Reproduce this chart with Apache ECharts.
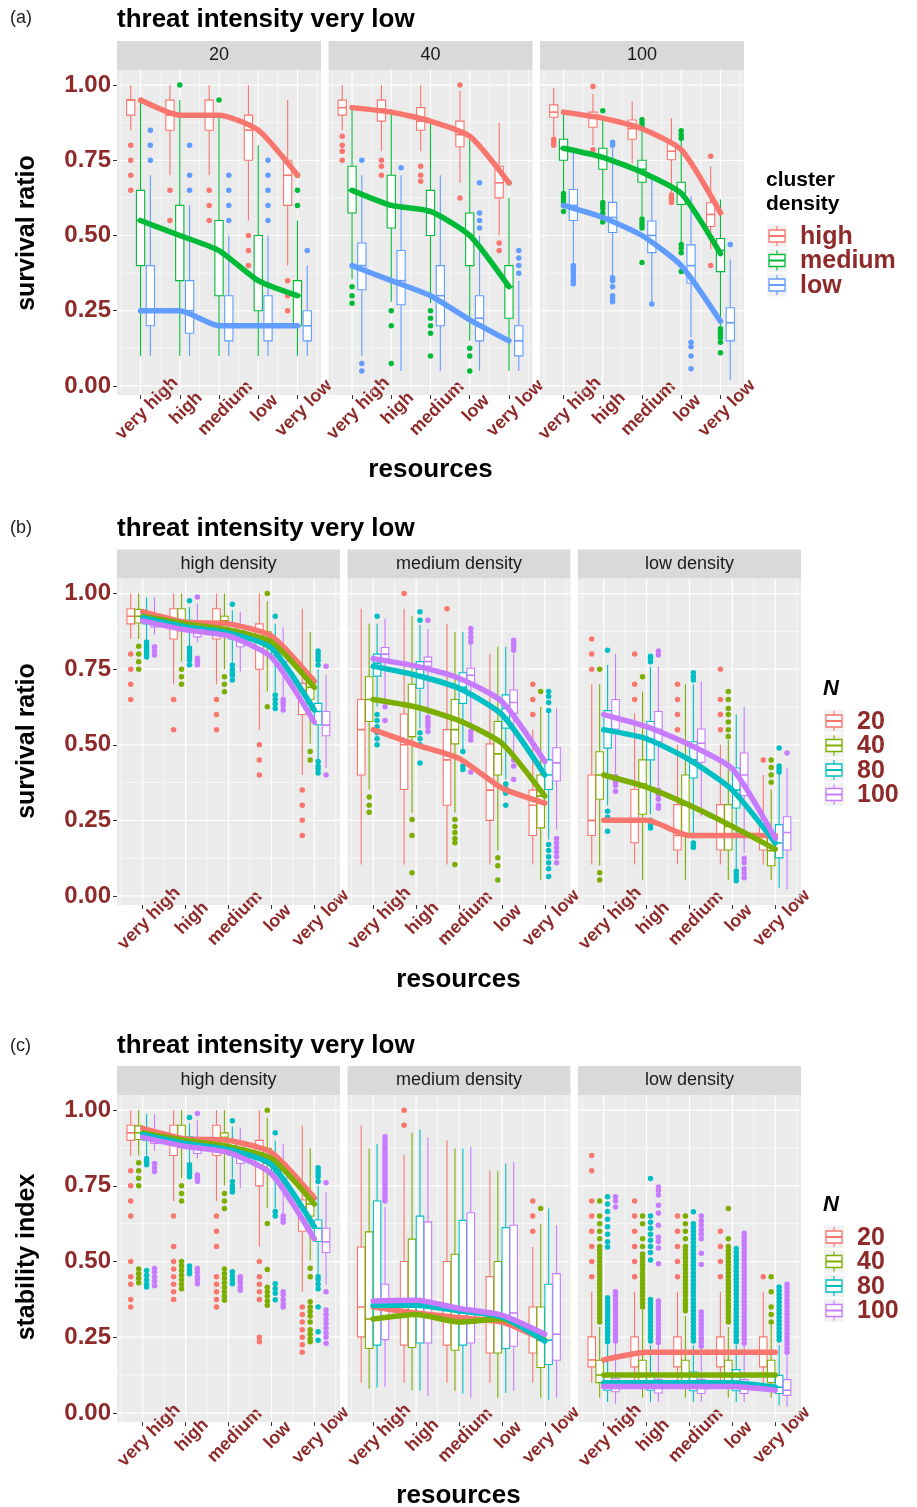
<!DOCTYPE html>
<html>
<head>
<meta charset="utf-8">
<script src="https://cdn.jsdelivr.net/npm/echarts@6/dist/echarts.min.js"></script>
<style>
html,body{margin:0;padding:0;background:#fff;}
#chart{width:917px;height:1507px;}
</style>
</head>
<body>
<div id="chart"></div>
<script>
// ---------------- DATA ----------------
const resources = ["very high", "high", "medium", "low", "very low"];
const clusterDensity = ["high", "medium", "low"];
const nValues = ["20", "40", "80", "100"];
const facetsA = ["20", "40", "100"];
const facetsBC = ["high density", "medium density", "low density"];
const yTicks = [0, 0.25, 0.5, 0.75, 1];
const yMinor = [0.125, 0.375, 0.625, 0.875];
const xTicks = [0, 1, 2, 3, 4];
const xMinor = [-0.5, 0.5, 1.5, 2.5, 3.5, 4.5];

// box = [lower whisker, Q1, median, Q3, upper whisker] per resource level
// ---- (a) facet N=20
const a20_high = [[0.85,0.90,0.95,0.95,1.00],[0.70,0.85,0.90,0.95,1.00],[0.70,0.85,0.90,0.95,1.00],[0.55,0.75,0.85,0.90,1.00],[0.40,0.60,0.70,0.75,0.95]];
const a20_high_out = [[0.80,0.75,0.70,0.65],[0.65,0.55],[0.65,0.60,0.55],[0.50,0.45,0.40],[0.35,0.30,0.25]];
const a20_high_line = [0.95,0.90,0.90,0.85,0.70];
const a20_medium = [[0.10,0.40,0.55,0.65,0.95],[0.10,0.35,0.50,0.60,0.95],[0.10,0.30,0.45,0.55,0.90],[0.10,0.25,0.35,0.50,0.80],[0.10,0.20,0.30,0.35,0.55]];
const a20_medium_out = [[],[1.00],[0.95],[],[0.70,0.65,0.60]];
const a20_medium_line = [0.55,0.50,0.45,0.35,0.30];
const a20_low = [[0.10,0.20,0.25,0.40,0.70],[0.10,0.175,0.25,0.35,0.60],[0.10,0.15,0.20,0.30,0.50],[0.10,0.15,0.20,0.30,0.50],[0.10,0.15,0.20,0.25,0.40]];
const a20_low_out = [[0.85,0.80,0.75],[0.80,0.70,0.65],[0.70,0.65,0.60,0.55],[0.75,0.70,0.65,0.60,0.55],[0.45]];
const a20_low_line = [0.25,0.25,0.20,0.20,0.20];
// ---- (a) facet N=40
const a40_high = [[0.85,0.90,0.925,0.95,1.00],[0.78,0.88,0.92,0.95,1.00],[0.78,0.85,0.88,0.925,1.00],[0.675,0.795,0.835,0.88,0.98],[0.50,0.625,0.675,0.73,0.875]];
const a40_high_out = [[0.83,0.80,0.78,0.75],[0.75,0.73,0.70],[0.73,0.70,0.68],[1.00,0.625],[0.475,0.45]];
const a40_high_line = [0.925,0.91,0.88,0.83,0.675];
const a40_medium = [[0.355,0.575,0.65,0.73,0.93],[0.28,0.525,0.60,0.70,0.92],[0.275,0.50,0.575,0.65,0.87],[0.15,0.40,0.50,0.575,0.82],[0.05,0.225,0.33,0.40,0.625]];
const a40_medium_out = [[0.33,0.30,0.275],[0.25,0.20,0.075],[0.25,0.225,0.20,0.175,0.10],[0.125,0.10,0.05],[0.675]];
const a40_medium_line = [0.65,0.60,0.58,0.50,0.33];
const a40_low = [[0.10,0.32,0.40,0.475,0.70],[0.05,0.27,0.35,0.45,0.70],[0.05,0.20,0.30,0.40,0.70],[0.05,0.15,0.225,0.30,0.50],[0.05,0.10,0.15,0.20,0.35]];
const a40_low_out = [[0.75,0.075,0.05],[0.725],[],[0.675,0.575,0.55,0.525],[0.45,0.425,0.40,0.375]];
const a40_low_line = [0.40,0.35,0.30,0.22,0.15];
// ---- (a) facet N=100
const a100_high = [[0.83,0.893,0.91,0.934,0.99],[0.80,0.86,0.89,0.91,0.97],[0.74,0.82,0.855,0.884,0.945],[0.64,0.752,0.78,0.807,0.89],[0.454,0.53,0.57,0.609,0.73]];
const a100_high_out = [[0.82,0.81,0.80],[0.995,0.785],[],[0.635,0.625,0.618,0.61],[0.763,0.40]];
const a100_high_line = [0.91,0.89,0.855,0.785,0.575];
const a100_medium = [[0.647,0.75,0.79,0.82,0.917],[0.62,0.72,0.76,0.79,0.895],[0.565,0.677,0.72,0.75,0.857],[0.476,0.603,0.64,0.677,0.818],[0.20,0.38,0.45,0.49,0.62]];
const a100_medium_out = [[0.64,0.63,0.62,0.61,0.60,0.58],[0.915,0.61,0.60,0.59,0.575,0.56,0.545],[0.885,0.875,0.865,0.555,0.545,0.535,0.525,0.41],[0.848,0.835,0.823,0.47,0.458,0.443,0.38],[0.19,0.18,0.17,0.16,0.145,0.11]];
const a100_medium_line = [0.79,0.76,0.71,0.64,0.44];
const a100_low = [[0.41,0.55,0.60,0.653,0.79],[0.37,0.51,0.56,0.61,0.79],[0.28,0.443,0.50,0.548,0.697],[0.162,0.342,0.40,0.469,0.63],[0.02,0.15,0.21,0.26,0.42]];
const a100_low_out = [[0.40,0.39,0.38,0.37,0.36,0.35,0.34],[0.81,0.80,0.36,0.35,0.33,0.30,0.29,0.28],[0.272],[0.145,0.13,0.10,0.057],[0.47]];
const a100_low_line = [0.60,0.56,0.50,0.40,0.215];

// ---- (b) high density
const bH_20 = [[0.85,0.90,0.925,0.95,1.00],[0.70,0.85,0.90,0.95,1.00],[0.70,0.85,0.90,0.95,1.00],[0.55,0.75,0.85,0.90,1.00],[0.40,0.60,0.68,0.703,0.95]];
const bH_20_out = [[0.80,0.75,0.70,0.65],[0.65,0.55],[0.65,0.60,0.55],[0.50,0.45,0.40],[0.35,0.30,0.25,0.20]];
const bH_20_line = [0.94,0.905,0.90,0.86,0.71];
const bH_40 = [[0.85,0.903,0.925,0.948,1.00],[0.775,0.877,0.90,0.95,1.00],[0.75,0.877,0.91,0.925,1.00],[0.676,0.824,0.85,0.874,0.975],[0.503,0.65,0.69,0.725,0.874]];
const bH_40_out = [[0.826,0.80,0.775,0.75],[0.75,0.725,0.70],[0.725,0.70,0.675],[1.00,0.626],[0.478,0.45]];
const bH_40_line = [0.925,0.90,0.88,0.84,0.69];
const bH_80 = [[0.85,0.90,0.915,0.93,0.987],[0.824,0.877,0.895,0.912,0.956],[0.775,0.85,0.875,0.90,0.945],[0.675,0.797,0.82,0.846,0.90],[0.45,0.566,0.61,0.637,0.75]];
const bH_80_out = [[0.84,0.83,0.82,0.81,0.80,0.79],[0.976,0.82,0.81,0.80,0.79,0.78,0.765],[0.965,0.764,0.75,0.74,0.73,0.714],[0.925,0.665,0.65,0.635,0.62],[0.81,0.80,0.79,0.78,0.764,0.445,0.43,0.42,0.407]];
const bH_80_line = [0.92,0.89,0.87,0.82,0.615];
const bH_100 = [[0.865,0.89,0.905,0.92,0.987],[0.84,0.857,0.89,0.91,0.967],[0.742,0.824,0.86,0.896,0.94],[0.654,0.775,0.80,0.824,0.888],[0.423,0.53,0.565,0.61,0.73]];
const bH_100_out = [[0.824,0.81,0.797],[0.989,0.786,0.775,0.765],[],[0.65,0.64,0.63,0.615],[0.76,0.40]];
const bH_100_line = [0.91,0.88,0.86,0.79,0.575];
// ---- (b) medium density
const bM_20 = [[0.104,0.40,0.55,0.65,0.95],[0.104,0.352,0.50,0.602,0.95],[0.104,0.30,0.45,0.55,0.90],[0.104,0.25,0.35,0.503,0.80],[0.104,0.20,0.30,0.35,0.55]];
const bM_20_out = [[],[1.00],[0.95],[],[0.70,0.65,0.60]];
const bM_20_line = [0.55,0.50,0.455,0.357,0.307];
const bM_40 = [[0.352,0.577,0.65,0.725,0.90],[0.275,0.527,0.63,0.70,0.925],[0.275,0.503,0.55,0.65,0.874],[0.15,0.40,0.47,0.577,0.824],[0.053,0.225,0.33,0.40,0.626]];
const bM_40_out = [[0.327,0.30,0.277],[0.253,0.20,0.077],[0.253,0.23,0.21,0.19,0.176,0.104],[0.126,0.10,0.053],[0.676]];
const bM_40_line = [0.65,0.625,0.58,0.505,0.33];
const bM_80 = [[0.626,0.727,0.77,0.80,0.90],[0.555,0.687,0.75,0.775,0.896],[0.483,0.637,0.69,0.738,0.874],[0.385,0.555,0.62,0.665,0.824],[0.187,0.352,0.40,0.45,0.604]];
const bM_80_out = [[0.925,0.60,0.58,0.56,0.54,0.52,0.50],[0.94,0.912,0.54,0.52,0.50,0.44],[0.478,0.43,0.418],[0.37,0.355,0.34,0.30],[0.676,0.66,0.64,0.613,0.17,0.15,0.13,0.11,0.09,0.064]];
const bM_80_line = [0.76,0.73,0.687,0.60,0.40];
const bM_100 = [[0.648,0.775,0.80,0.822,0.918],[0.60,0.76,0.775,0.79,0.885],[0.566,0.70,0.73,0.753,0.835],[0.473,0.604,0.64,0.681,0.80],[0.22,0.38,0.44,0.49,0.62]];
const bM_100_out = [[0.626,0.58],[0.912,0.59,0.58,0.57,0.56,0.544],[0.885,0.87,0.855,0.84,0.544,0.53,0.516,0.41],[0.846,0.835,0.824,0.813,0.45,0.43,0.385],[0.19,0.175,0.16,0.145,0.13,0.11]];
const bM_100_line = [0.785,0.76,0.72,0.643,0.445];
// ---- (b) low density
const bL_20 = [[0.104,0.20,0.25,0.40,0.70],[0.104,0.176,0.25,0.352,0.604],[0.104,0.152,0.20,0.302,0.50],[0.104,0.152,0.20,0.302,0.50],[0.104,0.152,0.20,0.253,0.40]];
const bL_20_out = [[0.85,0.80,0.75],[0.80,0.70,0.65],[0.70,0.65,0.60,0.55],[0.75,0.65,0.60,0.55],[0.45]];
const bL_20_line = [0.25,0.25,0.20,0.20,0.20];
const bL_40 = [[0.10,0.32,0.40,0.477,0.70],[0.053,0.27,0.37,0.45,0.676],[0.053,0.198,0.30,0.40,0.70],[0.053,0.152,0.23,0.302,0.516],[0.053,0.10,0.15,0.20,0.352]];
const bL_40_out = [[0.75,0.077,0.053],[0.725],[],[0.676,0.65,0.62,0.60,0.575,0.55,0.527],[0.45,0.425,0.40,0.376]];
const bL_40_line = [0.40,0.36,0.30,0.23,0.155];
const bL_80 = [[0.30,0.489,0.55,0.613,0.764],[0.27,0.45,0.51,0.577,0.758],[0.19,0.39,0.45,0.51,0.70],[0.088,0.291,0.35,0.423,0.60],[0.027,0.126,0.175,0.236,0.407]];
const bL_80_out = [[0.813,0.28,0.26,0.214],[0.793,0.785,0.775,0.25,0.235,0.225],[0.738,0.725,0.714,0.175,0.165,0.16],[0.082,0.07,0.06,0.05],[0.489,0.43,0.42,0.41]];
const bL_80_line = [0.55,0.52,0.45,0.35,0.175];
const bL_100 = [[0.407,0.552,0.59,0.65,0.80],[0.363,0.51,0.55,0.61,0.758],[0.264,0.442,0.505,0.552,0.71],[0.143,0.332,0.40,0.473,0.626],[0.022,0.152,0.21,0.262,0.423]];
const bL_100_out = [[0.395,0.385,0.375,0.365,0.346],[0.81,0.797,0.35,0.335,0.32,0.30,0.29],[],[0.125,0.11,0.09,0.075,0.06],[0.473]];
const bL_100_line = [0.60,0.56,0.50,0.42,0.19];

// ---- (c) high density (same boxes as (b), extra low outliers)
const cH_20 = [[0.85,0.90,0.925,0.95,1.00],[0.70,0.85,0.90,0.95,1.00],[0.70,0.85,0.90,0.95,1.00],[0.55,0.75,0.85,0.90,1.00],[0.40,0.60,0.68,0.703,0.95]];
const cH_20_out = [[0.80,0.75,0.70,0.65,0.50,0.45,0.425,0.375,0.35],[0.65,0.55,0.50,0.475,0.45,0.425,0.40,0.375],[0.65,0.60,0.55,0.45,0.425,0.40,0.375,0.35],[0.50,0.45,0.425,0.40,0.375,0.25,0.235],[0.35,0.325,0.30,0.275,0.25,0.225,0.20]];
const cH_20_line = [0.94,0.905,0.90,0.86,0.71];
const cH_40 = [[0.85,0.903,0.925,0.948,1.00],[0.775,0.877,0.90,0.95,1.00],[0.75,0.877,0.91,0.925,1.00],[0.676,0.824,0.85,0.874,0.975],[0.503,0.65,0.69,0.725,0.874]];
const cH_40_out = [[0.826,0.80,0.775,0.75,0.475,0.46,0.445,0.43],[0.75,0.725,0.70,0.50,0.485,0.47,0.455,0.44,0.425,0.41],[0.725,0.70,0.675,0.475,0.46,0.445,0.43,0.415,0.40,0.385,0.372],[1.00,0.626,0.474,0.415,0.40,0.385,0.37,0.356],[0.478,0.45,0.367,0.35,0.335,0.32,0.30,0.275,0.26,0.245,0.235]];
const cH_40_line = [0.925,0.90,0.88,0.84,0.69];
const cH_80 = [[0.85,0.90,0.915,0.93,0.987],[0.824,0.877,0.895,0.912,0.956],[0.775,0.85,0.875,0.90,0.945],[0.675,0.797,0.82,0.846,0.90],[0.45,0.566,0.61,0.637,0.75]];
const cH_80_out = [[0.84,0.83,0.82,0.47,0.455,0.44,0.425,0.416],[0.976,0.82,0.81,0.80,0.79,0.78,0.485,0.472,0.46],[0.965,0.764,0.75,0.74,0.73,0.466,0.452,0.44,0.427],[0.925,0.665,0.65,0.427,0.41,0.395,0.374],[0.81,0.80,0.79,0.78,0.764,0.45,0.44,0.425,0.41,0.35,0.268,0.24]];
const cH_80_line = [0.92,0.89,0.87,0.82,0.615];
const cH_100 = [[0.865,0.89,0.905,0.92,0.987],[0.84,0.857,0.89,0.91,0.967],[0.742,0.824,0.86,0.896,0.94],[0.654,0.775,0.80,0.824,0.888],[0.423,0.53,0.565,0.61,0.73]];
const cH_100_out = [[0.824,0.81,0.797,0.477,0.465,0.45,0.435,0.42],[0.989,0.786,0.775,0.765,0.477,0.465,0.45,0.44,0.427],[0.45,0.44,0.43,0.415,0.405],[0.65,0.64,0.63,0.40,0.39,0.375,0.36,0.35],[0.76,0.40,0.34,0.325,0.31,0.295,0.28,0.265,0.25,0.23]];
const cH_100_line = [0.91,0.88,0.86,0.79,0.575];
// ---- (c) medium density
const cM_20 = [[0.10,0.251,0.35,0.548,0.95],[0.10,0.224,0.35,0.50,0.851],[0.10,0.224,0.32,0.50,0.90],[0.10,0.198,0.30,0.45,0.80],[0.10,0.198,0.28,0.35,0.548]];
const cM_20_out = [[],[1.00,0.95],[],[],[0.70,0.65,0.60]];
const cM_20_line = [0.35,0.33,0.315,0.30,0.24];
const cM_40 = [[0.08,0.213,0.31,0.598,0.873],[0.075,0.216,0.32,0.574,0.925],[0.073,0.207,0.30,0.524,0.873],[0.05,0.198,0.31,0.50,0.80],[0.05,0.15,0.24,0.35,0.625]];
const cM_40_out = [[],[],[],[],[0.675]];
const cM_40_line = [0.31,0.325,0.30,0.31,0.24];
const cM_80 = [[0.084,0.224,0.35,0.70,0.888],[0.073,0.231,0.36,0.65,0.936],[0.064,0.224,0.33,0.636,0.873],[0.066,0.213,0.32,0.612,0.824],[0.042,0.16,0.24,0.425,0.675]];
const cM_80_out = [[],[],[],[],[]];
const cM_80_line = [0.355,0.356,0.337,0.317,0.237];
const cM_100 = [[0.086,0.242,0.31,0.425,0.68],[0.055,0.231,0.36,0.631,0.91],[0.05,0.231,0.34,0.661,0.879],[0.073,0.22,0.33,0.62,0.829],[0.05,0.174,0.26,0.46,0.62]];
const cM_100_out = [[0.912,0.90,0.89,0.88,0.87,0.86,0.85,0.84,0.83,0.82,0.81,0.80,0.79,0.78,0.77,0.76,0.75,0.74,0.73,0.72,0.71,0.70],[],[],[],[]];
const cM_100_line = [0.37,0.372,0.345,0.323,0.26];
// ---- (c) low density
const cL_20 = [[0.10,0.152,0.175,0.251,0.40],[0.10,0.152,0.20,0.251,0.40],[0.10,0.152,0.20,0.251,0.40],[0.10,0.152,0.20,0.251,0.40],[0.10,0.152,0.20,0.251,0.40]];
const cL_20_out = [[0.85,0.80,0.70,0.65,0.60,0.55,0.50,0.45],[0.70,0.65,0.60,0.55,0.50,0.45],[0.65,0.60,0.55,0.50,0.45],[0.60,0.55,0.50,0.45],[0.45]];
const cL_20_line = [0.175,0.20,0.20,0.20,0.20];
const cL_40 = [[0.05,0.10,0.125,0.174,0.284],[0.05,0.10,0.125,0.174,0.34],[0.05,0.10,0.125,0.174,0.32],[0.05,0.10,0.125,0.174,0.284],[0.05,0.10,0.125,0.174,0.29]];
const cL_40_out = [
  [0.70,0.65,0.625,0.60,0.575,0.55,0.5375,0.525,0.5125,0.50,0.4875,0.475,0.4625,0.45,0.4375,0.425,0.4125,0.40,0.3875,0.375,0.3625,0.35,0.3375,0.325,0.3125,0.30],
  [0.65,0.625,0.575,0.55,0.525,0.5125,0.50,0.4875,0.475,0.4625,0.45,0.4375,0.425,0.4125,0.40,0.3875,0.375,0.3625,0.35],
  [0.65,0.625,0.60,0.575,0.55,0.5375,0.525,0.5125,0.50,0.4875,0.475,0.4625,0.45,0.4375,0.425,0.4125,0.40,0.3875,0.375,0.3625,0.35,0.3375],
  [0.675,0.575,0.55,0.5375,0.525,0.5125,0.50,0.4875,0.475,0.4625,0.45,0.4375,0.425,0.4125,0.40,0.3875,0.375,0.3625,0.35,0.3375,0.325,0.3125,0.30],
  [0.45,0.40,0.35,0.325,0.30]];
const cL_40_line = [0.125,0.125,0.125,0.125,0.125];
const cL_80 = [[0.036,0.075,0.095,0.13,0.224],[0.036,0.075,0.095,0.13,0.224],[0.036,0.073,0.10,0.135,0.224],[0.036,0.073,0.10,0.143,0.224],[0.025,0.064,0.085,0.124,0.224]];
const cL_80_out = [
  [0.714,0.69,0.665,0.64,0.615,0.59,0.565,0.548,0.38,0.3675,0.355,0.3425,0.33,0.3175,0.305,0.2925,0.28,0.2675,0.255,0.2425,0.235],
  [0.774,0.65,0.63,0.61,0.59,0.57,0.55,0.53,0.505,0.375,0.3625,0.35,0.3375,0.325,0.3125,0.30,0.2875,0.275,0.2625,0.25,0.2375],
  [0.664,0.625,0.6125,0.60,0.5875,0.575,0.5625,0.55,0.5375,0.525,0.5125,0.50,0.4875,0.475,0.4625,0.45,0.4375,0.425,0.4125,0.40,0.3875,0.375,0.3625,0.35,0.3375,0.325,0.3125,0.30,0.2875,0.275,0.2625,0.25,0.2375],
  [0.543,0.53,0.5175,0.505,0.4925,0.48,0.4675,0.455,0.4425,0.43,0.4175,0.405,0.3925,0.38,0.3675,0.355,0.3425,0.33,0.3175,0.305,0.2925,0.28,0.2675,0.255,0.2425,0.235],
  [0.416,0.4035,0.391,0.3785,0.366,0.3535,0.341,0.3285,0.316,0.3035,0.291,0.2785,0.266,0.2535,0.241]];
const cL_80_line = [0.10,0.10,0.10,0.10,0.085];
const cL_100 = [[0.03,0.07,0.085,0.113,0.23],[0.036,0.066,0.085,0.11,0.23],[0.036,0.064,0.085,0.11,0.218],[0.036,0.064,0.085,0.11,0.23],[0.02,0.058,0.075,0.11,0.196]];
const cL_100_out = [
  [0.714,0.70,0.68,0.40,0.3875,0.375,0.3625,0.35,0.3375,0.325,0.3125,0.30,0.2875,0.275,0.2625,0.25,0.2375],
  [0.746,0.735,0.72,0.686,0.66,0.62,0.58,0.566,0.545,0.493,0.37,0.3575,0.345,0.3325,0.32,0.3075,0.295,0.2825,0.27,0.2575,0.245,0.2325],
  [0.65,0.635,0.62,0.605,0.59,0.575,0.527,0.49,0.333,0.3205,0.308,0.2955,0.283,0.2705,0.258,0.2455,0.233,0.22],
  [0.593,0.5805,0.568,0.5555,0.543,0.5305,0.518,0.5055,0.493,0.4805,0.468,0.4555,0.443,0.4305,0.418,0.4055,0.393,0.3805,0.368,0.3555,0.343,0.3305,0.318,0.3055,0.293,0.2805,0.268,0.2555,0.243,0.23],
  [0.425,0.4125,0.40,0.3875,0.375,0.3625,0.35,0.3375,0.325,0.3125,0.30,0.2875,0.275,0.2625,0.25,0.2375,0.225,0.2125,0.20]];
const cL_100_line = [0.087,0.087,0.087,0.087,0.075];

// ---------------- STYLE / LAYOUT ----------------
const FONT = "'Liberation Sans', Arial, Helvetica, sans-serif";
const RED_TXT = "#8e2a2a";
const colors3 = ["#F8766D", "#00BA38", "#619CFF"];
const colors4 = ["#F8766D", "#7CAE00", "#00BFC4", "#C77CFF"];
const X_MIN = -0.6, X_MAX = 4.6, Y_MIN = -0.03, Y_MAX = 1.05;

const g = (box, out, line) => ({ box, out, line });
const panels = [
  {
    tag: "(a)", title: "threat intensity very low", yTitle: "survival ratio",
    facets: facetsA, groups: clusterDensity, colors: colors3, legendTitle: ["cluster", "density"], italic: false,
    top: 70, height: 325, lefts: [117, 328.5, 540], width: 204, strip: 29, boxW: 0.21, offsets: [-0.25, 0, 0.25],
    tagY: 18, titleY: 20, xTitleY: 470, xTitleX: 430.5, yTitleY: 233,
    legendTitleY: [180, 204], legendRows: [236, 260.5, 285], keyX: 777, labelX: 800,
    data: [
      [g(a20_high, a20_high_out, a20_high_line), g(a20_medium, a20_medium_out, a20_medium_line), g(a20_low, a20_low_out, a20_low_line)],
      [g(a40_high, a40_high_out, a40_high_line), g(a40_medium, a40_medium_out, a40_medium_line), g(a40_low, a40_low_out, a40_low_line)],
      [g(a100_high, a100_high_out, a100_high_line), g(a100_medium, a100_medium_out, a100_medium_line), g(a100_low, a100_low_out, a100_low_line)]
    ]
  },
  {
    tag: "(b)", title: "threat intensity very low", yTitle: "survival ratio",
    facets: facetsBC, groups: nValues, colors: colors4, legendTitle: ["N"], italic: true,
    top: 578.5, height: 326.5, lefts: [117, 347.5, 578], width: 223, strip: 29, boxW: 0.175, offsets: [-0.28, -0.095, 0.09, 0.275],
    tagY: 528, titleY: 529, xTitleY: 980, xTitleX: 458.5, yTitleY: 741,
    legendTitleY: [689], legendRows: [721, 745.5, 770, 794.5], keyX: 834, labelX: 857,
    data: [
      [g(bH_20, bH_20_out, bH_20_line), g(bH_40, bH_40_out, bH_40_line), g(bH_80, bH_80_out, bH_80_line), g(bH_100, bH_100_out, bH_100_line)],
      [g(bM_20, bM_20_out, bM_20_line), g(bM_40, bM_40_out, bM_40_line), g(bM_80, bM_80_out, bM_80_line), g(bM_100, bM_100_out, bM_100_line)],
      [g(bL_20, bL_20_out, bL_20_line), g(bL_40, bL_40_out, bL_40_line), g(bL_80, bL_80_out, bL_80_line), g(bL_100, bL_100_out, bL_100_line)]
    ]
  },
  {
    tag: "(c)", title: "threat intensity very low", yTitle: "stability index",
    facets: facetsBC, groups: nValues, colors: colors4, legendTitle: ["N"], italic: true,
    top: 1095, height: 327, lefts: [117, 347.5, 578], width: 223, strip: 29, boxW: 0.175, offsets: [-0.28, -0.095, 0.09, 0.275],
    tagY: 1046, titleY: 1046, xTitleY: 1496, xTitleX: 458.5, yTitleY: 1257,
    legendTitleY: [1205], legendRows: [1237, 1261.5, 1286, 1310.5], keyX: 834, labelX: 857,
    data: [
      [g(cH_20, cH_20_out, cH_20_line), g(cH_40, cH_40_out, cH_40_line), g(cH_80, cH_80_out, cH_80_line), g(cH_100, cH_100_out, cH_100_line)],
      [g(cM_20, cM_20_out, cM_20_line), g(cM_40, cM_40_out, cM_40_line), g(cM_80, cM_80_out, cM_80_line), g(cM_100, cM_100_out, cM_100_line)],
      [g(cL_20, cL_20_out, cL_20_line), g(cL_40, cL_40_out, cL_40_line), g(cL_80, cL_80_out, cL_80_line), g(cL_100, cL_100_out, cL_100_line)]
    ]
  }
];

// ---------------- BUILD ----------------
const grids = [], xAxes = [], yAxes = [], series = [], graphics = [];

function boxRenderer(color, boxW) {
  return function (params, api) {
    const x = api.value(0);
    const lo = api.coord([x, api.value(1)]);
    const q1 = api.coord([x, api.value(2)]);
    const md = api.coord([x, api.value(3)]);
    const q3 = api.coord([x, api.value(4)]);
    const hi = api.coord([x, api.value(5)]);
    const hw = api.size([boxW, 0])[0] / 2;
    const cx = q1[0];
    const st = { stroke: color, lineWidth: 1.1, fill: null };
    return {
      type: "group",
      children: [
        { type: "line", shape: { x1: cx, y1: hi[1], x2: cx, y2: q3[1] }, style: st },
        { type: "line", shape: { x1: cx, y1: q1[1], x2: cx, y2: lo[1] }, style: st },
        { type: "rect", shape: { x: cx - hw, y: q3[1], width: hw * 2, height: q1[1] - q3[1] }, style: { fill: "#ffffff", stroke: color, lineWidth: 1.1 } },
        { type: "line", shape: { x1: cx - hw, y1: md[1], x2: cx + hw, y2: md[1] }, style: { stroke: color, lineWidth: 1.6 } }
      ]
    };
  };
}

function gridRenderer(params, api) {
  const o = api.value(0), v = api.value(1), maj = api.value(2);
  let p1, p2;
  if (o === 0) { p1 = api.coord([X_MIN, v]); p2 = api.coord([X_MAX, v]); }
  else { p1 = api.coord([v, Y_MIN]); p2 = api.coord([v, Y_MAX]); }
  return { type: "line", shape: { x1: p1[0], y1: p1[1], x2: p2[0], y2: p2[1] }, style: { stroke: "#ffffff", lineWidth: maj ? 1.2 : 0.6 } };
}

let gi = 0;
panels.forEach((p) => {
  graphics.push({ type: "text", x: 10, y: p.tagY, style: { text: p.tag, font: "18px " + FONT, fill: "#222", textVerticalAlign: "middle" } });
  graphics.push({ type: "text", x: 117, y: p.titleY, style: { text: p.title, font: "bold 26px " + FONT, fill: "#000", textVerticalAlign: "middle" } });
  graphics.push({ type: "text", x: p.xTitleX, y: p.xTitleY, style: { text: "resources", font: "bold 26px " + FONT, fill: "#000", textAlign: "center", textVerticalAlign: "middle" } });
  graphics.push({ type: "text", x: 27, y: p.yTitleY, rotation: Math.PI / 2, style: { text: p.yTitle, font: "bold 25px " + FONT, fill: "#000", textAlign: "center", textVerticalAlign: "middle" } });

  // legend
  p.legendTitle.forEach((t, k) => {
    graphics.push({ type: "text", x: p.keyX - 11, y: p.legendTitleY[k], style: { text: t, font: (p.italic ? "italic " : "") + "bold " + (p.italic ? 22 : 21) + "px " + FONT, fill: "#000", textVerticalAlign: "middle" } });
  });
  p.groups.forEach((name, k) => {
    const cy = p.legendRows[k], cx = p.keyX, c = p.colors[k];
    graphics.push({ type: "rect", shape: { x: cx - 10.5, y: cy - 12, width: 21, height: 24 }, style: { fill: "#F2F2F2", stroke: "#ffffff" } });
    graphics.push({ type: "line", shape: { x1: cx, y1: cy - 10, x2: cx, y2: cy + 10 }, style: { stroke: c, lineWidth: 1.2 } });
    graphics.push({ type: "rect", shape: { x: cx - 8, y: cy - 6, width: 16, height: 12 }, style: { fill: "#fff", stroke: c, lineWidth: 1.3 } });
    graphics.push({ type: "line", shape: { x1: cx - 8, y1: cy, x2: cx + 8, y2: cy }, style: { stroke: c, lineWidth: 2 } });
    graphics.push({ type: "text", x: p.labelX, y: cy + 1, style: { text: name, font: "bold 25px " + FONT, fill: RED_TXT, textVerticalAlign: "middle" } });
  });

  p.facets.forEach((fname, fi) => {
    const left = p.lefts[fi];
    graphics.push({ type: "rect", shape: { x: left, y: p.top - p.strip, width: p.width, height: p.strip }, style: { fill: "#D9D9D9" } });
    graphics.push({ type: "text", x: left + p.width / 2, y: p.top - p.strip / 2, style: { text: fname, font: "18px " + FONT, fill: "#1A1A1A", textAlign: "center", textVerticalAlign: "middle" } });

    grids.push({ left: left, top: p.top, width: p.width, height: p.height, show: true, backgroundColor: "#EBEBEB", borderWidth: 0 });
    xAxes.push({
      gridIndex: gi, type: "value", min: X_MIN, max: X_MAX, position: "bottom",
      splitLine: { show: false }, axisLine: { show: false, onZero: false },
      axisTick: { show: true, customValues: xTicks, length: 4, lineStyle: { color: "#333", width: 1 } },
      axisLabel: {
        customValues: xTicks, formatter: (v) => resources[Math.round(v)], rotate: 45,
        align: "center", verticalAlign: "top", margin: 7,
        fontSize: 18, fontWeight: "bold", color: RED_TXT, fontFamily: FONT
      }
    });
    yAxes.push({
      gridIndex: gi, type: "value", min: Y_MIN, max: Y_MAX, position: "left",
      splitLine: { show: false }, axisLine: { show: false, onZero: false },
      axisTick: { show: fi === 0, customValues: yTicks, length: 4, lineStyle: { color: "#333", width: 1 } },
      axisLabel: {
        show: fi === 0, customValues: yTicks, formatter: (v) => v.toFixed(2), margin: 6,
        fontSize: 24, fontWeight: "bold", color: RED_TXT, fontFamily: FONT
      }
    });
    const gl = [];
    yTicks.forEach((v) => gl.push([0, v, 1]));
    yMinor.forEach((v) => gl.push([0, v, 0]));
    xTicks.forEach((v) => gl.push([1, v, 1]));
    xMinor.forEach((v) => gl.push([1, v, 0]));
    series.push({ type: "custom", xAxisIndex: gi, yAxisIndex: gi, renderItem: gridRenderer, data: gl, encode: { x: 1, y: 1 }, silent: true, z: 1, clip: true });

    const groups = p.data[fi];
    groups.forEach((grp, k) => {
      const off = p.offsets[k], color = p.colors[k];
      series.push({
        type: "custom", xAxisIndex: gi, yAxisIndex: gi, z: 2, clip: true,
        renderItem: boxRenderer(color, p.boxW),
        encode: { x: 0, y: [1, 2, 3, 4, 5] },
        data: grp.box.map((b, i) => [i + off].concat(b))
      });
      const pts = [];
      grp.out.forEach((arr, i) => arr.forEach((v) => pts.push([i + off, v])));
      series.push({
        type: "scatter", xAxisIndex: gi, yAxisIndex: gi, z: 3, symbolSize: 5.5,
        itemStyle: { color: color, opacity: 1 }, data: pts, silent: true
      });
    });
    groups.forEach((grp, k) => {
      series.push({
        type: "line", xAxisIndex: gi, yAxisIndex: gi, z: 4, showSymbol: false, symbol: "none",
        smooth: 0.2, lineStyle: { color: p.colors[k], width: 5.5, cap: "round", join: "round" },
        data: grp.line.map((v, i) => [i, v]), silent: true
      });
    });
    gi++;
  });
});

const chart = echarts.init(document.getElementById("chart"), null, { renderer: "canvas" });
chart.setOption({
  animation: false,
  backgroundColor: "#ffffff",
  textStyle: { fontFamily: FONT },
  grid: grids, xAxis: xAxes, yAxis: yAxes, series: series,
  graphic: { elements: graphics }
});
</script>
</body>
</html>
